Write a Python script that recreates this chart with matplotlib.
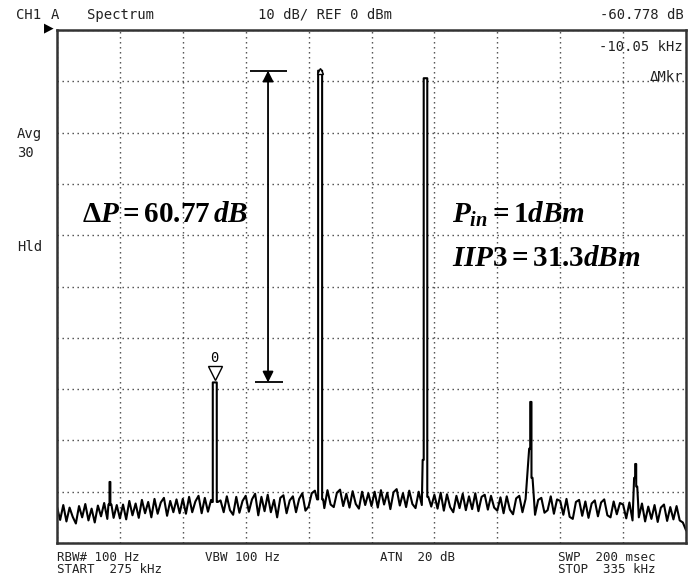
import numpy as np
import matplotlib.pyplot as plt
from matplotlib.transforms import offset_copy

plt.rcParams['mathtext.fontset'] = 'custom'
plt.rcParams['mathtext.rm'] = 'Liberation Serif:bold'
plt.rcParams['mathtext.it'] = 'Liberation Serif:italic:bold'

# sweep settings: 275 - 335 kHz, REF 0 dBm, 10 dB/div
f_start, f_stop = 275.0, 335.0
ref_level = 0.0
db_per_div = 10.0

# noise floor, one reading every 0.3 kHz from 275 kHz
noise_dbm = [
    -93.0, -95.5, -92.6, -95.8, -93.1, -94.9, -96.2, -92.8, -95.0, -92.4, -95.6, -93.3, -96.0, -92.7, -94.8, -92.2, -95.3, -93.0, -95.1, -92.6,
    -95.2, -92.5, -95.4, -91.8, -94.6, -92.3, -95.1, -91.6, -94.2, -92.0, -95.0, -91.4, -94.3, -92.1, -91.2, -94.7, -91.8, -94.0, -91.5, -94.2,
    -91.4, -94.3, -91.0, -94.0, -91.9, -90.8, -94.2, -91.2, -93.9, -91.6, -95.0, -96.5, -91.7, -94.0, -90.9, -93.6, -94.5, -91.0, -94.1, -91.8,
    -90.8, -93.9, -91.5, -90.4, -94.6, -91.0, -93.8, -90.6, -94.0, -91.6, -95.0, -91.2, -90.7, -94.2, -91.7, -90.9, -94.0, -91.4, -90.3, -93.7,
    -92.9, -90.3, -89.8, -92.7, -90.1, -93.2, -89.7, -92.5, -93.0, -90.2, -89.6, -92.8, -90.4, -93.1, -89.9, -92.4, -93.3, -90.0, -92.6, -90.3,
    -92.8, -90.0, -93.1, -89.7, -92.5, -90.2, -93.4, -90.1, -89.5, -92.7, -90.3, -93.0, -89.8, -92.4, -93.2, -90.0, -92.6, -89.7, -90.4, -92.9,
    -90.6, -93.3, -90.2, -93.7, -90.5, -93.0, -94.0, -90.8, -93.2, -90.4, -93.6, -90.9, -93.4, -90.3, -93.8, -91.0, -90.6, -93.5, -90.8, -93.1,
    -93.7, -91.1, -94.2, -90.9, -93.5, -94.4, -91.3, -90.8, -94.0, -91.4, -93.8, -91.0, -94.5, -91.6, -91.2, -94.1, -93.6, -90.9, -94.3, -91.5,
    -91.8, -94.5, -91.4, -94.9, -95.3, -92.0, -91.6, -94.7, -91.9, -95.1, -92.3, -91.7, -94.8, -92.1, -91.5, -94.6, -95.0, -91.9, -94.4, -92.2,
    -92.5, -95.2, -92.1, -95.6, -92.7, -95.0, -92.3, -95.8, -92.9, -95.3, -92.6, -95.9, -93.1, -92.5, -95.7, -93.0, -95.4, -92.8, -95.6, -96.0,
    -97.5,
]

# spectral lines: centre (kHz), top (dBm), shoulders (dBm), half width (kHz)
line_khz = [280.05, 290.05, 300.10, 310.15, 320.20, 330.20]
line_top = [-88.1, -68.70, -7.92, -9.4, -72.5, -84.6]
line_shl = [-92.5, -92.0, -91.5, -83.8, -81.6, -87.3]
line_shr = [-92.5, -92.0, -91.5, -91.0, -87.3, -89.0]
line_hw = [0.04, 0.19, 0.19, 0.17, 0.06, 0.05]

noise_khz = f_start + 0.3 * np.arange(len(noise_dbm))
noise_arr = np.asarray(noise_dbm)
keep = np.ones(len(noise_khz), bool)
for f, hw in zip(line_khz, line_hw):
    keep &= np.abs(noise_khz - f) > hw + 0.15

fx = list(noise_khz[keep])
py = list(noise_arr[keep])
for f, top, sl, sr, hw in zip(line_khz, line_top, line_shl, line_shr, line_hw):
    fx += [f - hw - 0.1, f - hw, f - hw, f + hw, f + hw, f + hw + 0.1]
    py += [sl, sl, top, top, sr, sr]
order = np.argsort(fx, kind='stable')
fx = np.asarray(fx)[order]
py = np.asarray(py)[order]

W, H = 692, 581
fig = plt.figure(figsize=(W / 100, H / 100), dpi=100)
ax = fig.add_axes([57 / W, 1 - 543 / H, 629 / W, 513 / H])

ax.plot(fx, py, color='black', lw=1.5)

ax.set_xlim(f_start, f_stop)
ax.set_ylim(ref_level - 10 * db_per_div, ref_level)
ax.set_xticks(np.linspace(f_start, f_stop, 11))
ax.set_yticks(np.linspace(ref_level - 10 * db_per_div, ref_level, 11))
ax.grid(True, color='#444444', linestyle=(0, (1, 2.6)), lw=1.0)
ax.tick_params(length=0, labelbottom=False, labelleft=False)
for s in ax.spines.values():
    s.set_linewidth(1.8)
    s.set_color('#333333')

# delta marker on the main tone, reference marker on the lower IM3 product
im3_f, im3_p = line_khz[1], line_top[1]
main_f, main_p = line_khz[2], line_top[2]
ax.plot(main_f, main_p, marker='^', ms=5, mfc='white', mec='black', mew=1.0)
tri = offset_copy(ax.transData, fig=fig, x=0, y=9, units='dots')
ax.plot(im3_f, im3_p, marker='v', ms=10, mfc='white', mec='black', mew=1.0,
        transform=tri)
zero = offset_copy(ax.transData, fig=fig, x=0, y=24, units='dots')
ax.text(im3_f, im3_p, '0', transform=zero, ha='center', va='center',
        family='DejaVu Sans Mono', fontsize=10)

# delta P arrow between the two marker levels
arr_x = 295.13
ax.hlines(main_p, 293.4, 296.9, color='black', lw=1.3)
ax.hlines(im3_p, 293.9, 296.6, color='black', lw=1.3)
ax.annotate('', xy=(arr_x, main_p), xytext=(arr_x, im3_p),
            arrowprops=dict(arrowstyle='<|-|>', color='black', lw=1.3,
                            shrinkA=0, shrinkB=0, mutation_scale=16))

mono = dict(family='DejaVu Sans Mono', fontsize=10, color='#222222', va='center')


def put(x, y, s, **kw):
    fig.text(x / W, 1 - y / H, s, **{**mono, **kw})


put(16, 15, 'CH1')
put(51, 15, 'A')
put(87, 15, 'Spectrum')
put(258, 15, '10 dB/ REF 0 dBm')
put(684, 15, '-60.778 dB', ha='right')
put(683, 47, '-10.05 kHz', ha='right')
put(683, 77, 'ΔMkr', ha='right')
put(17, 134, 'Avg')
put(17, 153, '30')
put(17, 247, 'Hld')

# settings under the graticule
small = dict(fontsize=9, va='baseline')
put(57, 561, 'RBW# 100 Hz', **small)
put(205, 561, 'VBW 100 Hz', **small)
put(380, 561, 'ATN  20 dB', **small)
put(558, 561, 'SWP  200 msec', **small)
put(57, 573, 'START  275 kHz', **small)
put(558, 573, 'STOP  335 kHz', **small)

# marker left-side pointer
fig.text(44 / W, 1 - 28 / H, '▶', fontsize=9, va='center', color='black')

# measurement results
math = dict(fontsize=21, va='baseline', color='black')
fig.text(82 / W, 1 - 222 / H, r'$\Delta P = 60.77\,dB$', **math)
fig.text(452 / W, 1 - 223 / H, r'$P_{in} = 1dBm$', **math)
fig.text(452 / W, 1 - 266 / H, r'$IIP3 = 31.3dBm$', **math)

fig.savefig('out.png', dpi=100)
